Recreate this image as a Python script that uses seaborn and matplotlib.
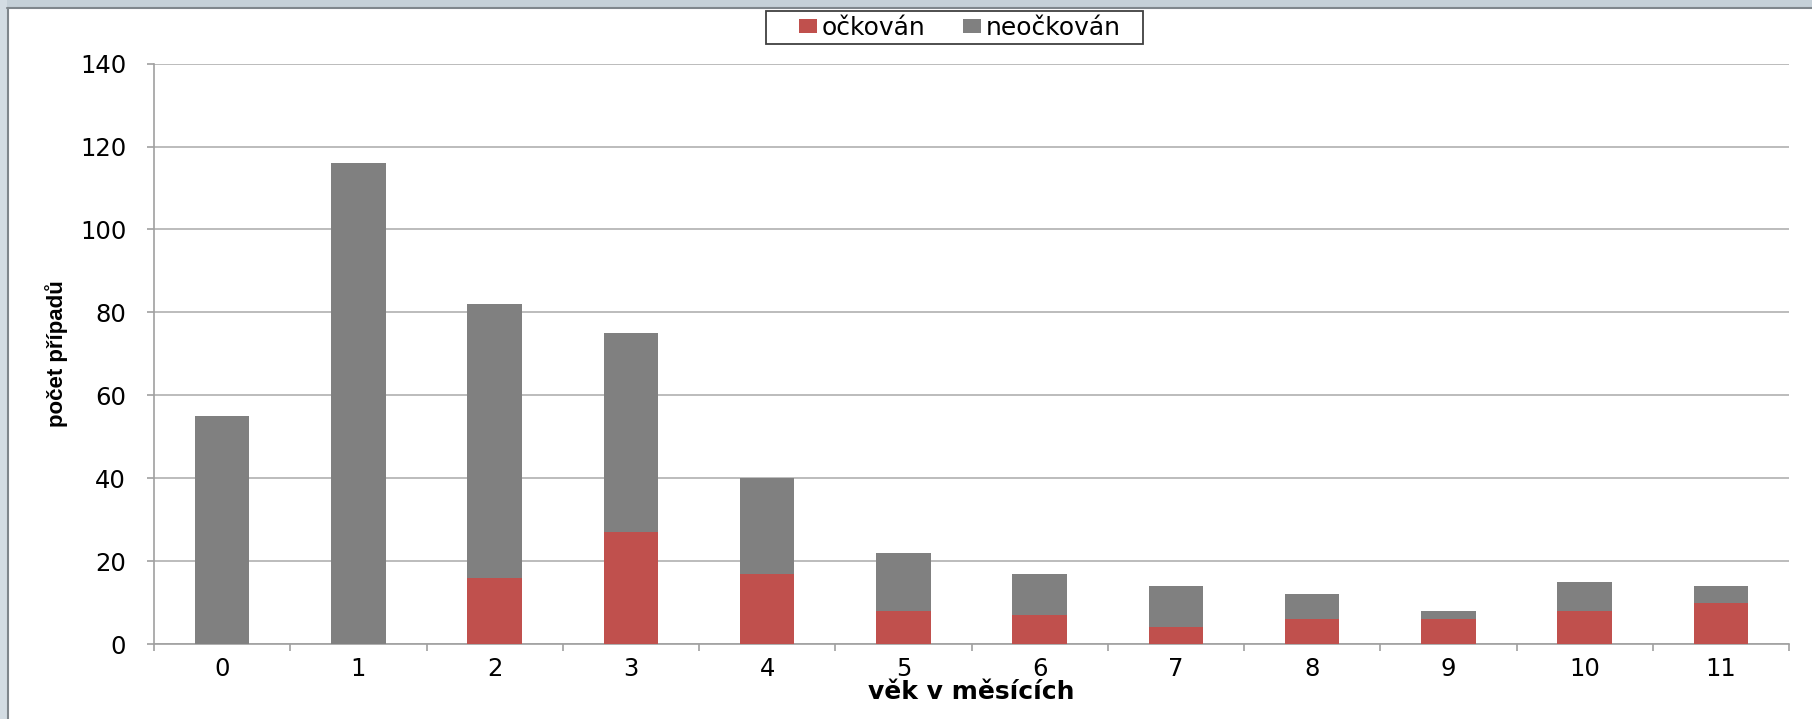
import matplotlib
matplotlib.use("Agg")
import matplotlib.pyplot as plt
from matplotlib.patches import Rectangle, Patch
import numpy as np
import pandas as pd
import seaborn as sns

# Cases by age in months, split by vaccination status
months = ["0", "1", "2", "3", "4", "5", "6", "7", "8", "9", "10", "11"]
vaccinated = [0, 0, 16, 27, 17, 8, 7, 4, 6, 6, 8, 10]
unvaccinated = [55, 116, 66, 48, 23, 14, 10, 10, 6, 2, 7, 4]
y_ticks = [0, 20, 40, 60, 80, 100, 120, 140]

label_vacc = "očkován"
label_unvacc = "neočkován"
x_title = "věk v měsících"
y_title = "počet případů"

RED = "#C0504D"
GREY = "#808080"

df = pd.DataFrame({
    "month": months,
    "vaccinated": vaccinated,
    "unvaccinated": unvaccinated,
})
df["total"] = df["vaccinated"] + df["unvaccinated"]

sns.set_theme(style="white")
plt.rcParams["font.family"] = ["DejaVu Sans"]
plt.rcParams["text.color"] = "black"
plt.rcParams["axes.labelcolor"] = "black"
plt.rcParams["xtick.color"] = "black"
plt.rcParams["ytick.color"] = "black"

W, H = 1812, 719
fig = plt.figure(figsize=(W / 100, H / 100), dpi=100)
fig.patch.set_facecolor("white")

# window-style frame on top and left edges
fig.patches.append(Rectangle((0, 1 - 7 / H), 1, 7 / H, transform=fig.transFigure,
                             facecolor="#C5D0D8", edgecolor="none", zorder=0))
fig.patches.append(Rectangle((0, 0), 7 / W, 1, transform=fig.transFigure,
                             facecolor="#D3DCE3", edgecolor="none", zorder=0))
fig.lines.append(plt.Line2D([7 / W, 1], [1 - 7.5 / H, 1 - 7.5 / H],
                            transform=fig.transFigure, color="#7F868C", lw=1.5))
fig.lines.append(plt.Line2D([7.5 / W, 7.5 / W], [0, 1 - 7.5 / H],
                            transform=fig.transFigure, color="#7F868C", lw=1.5))

ax_l, ax_r, ax_t, ax_b = 154, 1789, 63.6, 644
ax = fig.add_axes([ax_l / W, 1 - ax_b / H, (ax_r - ax_l) / W, (ax_b - ax_t) / H])

sns.barplot(data=df, x="month", y="total", color=GREY, width=0.4,
            saturation=1, linewidth=0, ax=ax, zorder=3)
sns.barplot(data=df, x="month", y="vaccinated", color=RED, width=0.4,
            saturation=1, linewidth=0, ax=ax, zorder=4)

ax.set_xlim(-0.5, len(months) - 0.5)
ax.set_ylim(0, 140)
ax.set_yticks(y_ticks)
ax.yaxis.grid(True, color="#B0B0B0", lw=1.2, zorder=0)
ax.xaxis.grid(False)
ax.set_axisbelow(True)

for side in ["top", "right"]:
    ax.spines[side].set_visible(False)
for side in ["left", "bottom"]:
    ax.spines[side].set_color("#A0A0A0")
    ax.spines[side].set_linewidth(1.2)

ax.set_xticks(np.arange(-0.5, len(months), 1.0), minor=True)
ax.tick_params(axis="x", which="major", length=0, pad=9, labelsize=17.5, labelcolor="black")
ax.tick_params(axis="x", which="minor", length=5, width=1.2, color="#A0A0A0", direction="out")
ax.tick_params(axis="y", which="major", length=5, width=1.2, color="#A0A0A0",
               direction="out", pad=15, labelsize=17.5, labelcolor="black")
ax.tick_params(left=True, bottom=True, which="both")

ax.set_xlabel(x_title, fontsize=18, fontweight="bold")
ax.xaxis.set_label_coords(0.5, -0.062)
ax.set_ylabel(y_title, fontsize=16, fontweight="bold",
              family=["Liberation Sans Narrow", "Liberation Sans"])
ax.yaxis.set_label_coords((68 - ax_l) / (ax_r - ax_l), 0.5)

# legend entries, with a separate box drawn around them
handles = [Patch(facecolor=RED, edgecolor="none", label=label_vacc),
           Patch(facecolor=GREY, edgecolor="none", label=label_unvacc)]
leg = fig.legend(handles=handles, loc="center",
                 bbox_to_anchor=(960 / W, 1 - 28 / H),
                 ncol=2, frameon=False, fontsize=18,
                 handlelength=0.7, handleheight=0.45, handletextpad=0.2,
                 columnspacing=1.5, borderpad=0.0, borderaxespad=0)
box_x0, box_x1, box_y0, box_y1 = 766, 1143, 11.5, 44
fig.patches.append(Rectangle((box_x0 / W, 1 - box_y1 / H), (box_x1 - box_x0) / W,
                             (box_y1 - box_y0) / H, transform=fig.transFigure,
                             facecolor="white", edgecolor="#404040", lw=1.3, zorder=1))

fig.savefig("out.png", dpi=100, facecolor=fig.get_facecolor())
